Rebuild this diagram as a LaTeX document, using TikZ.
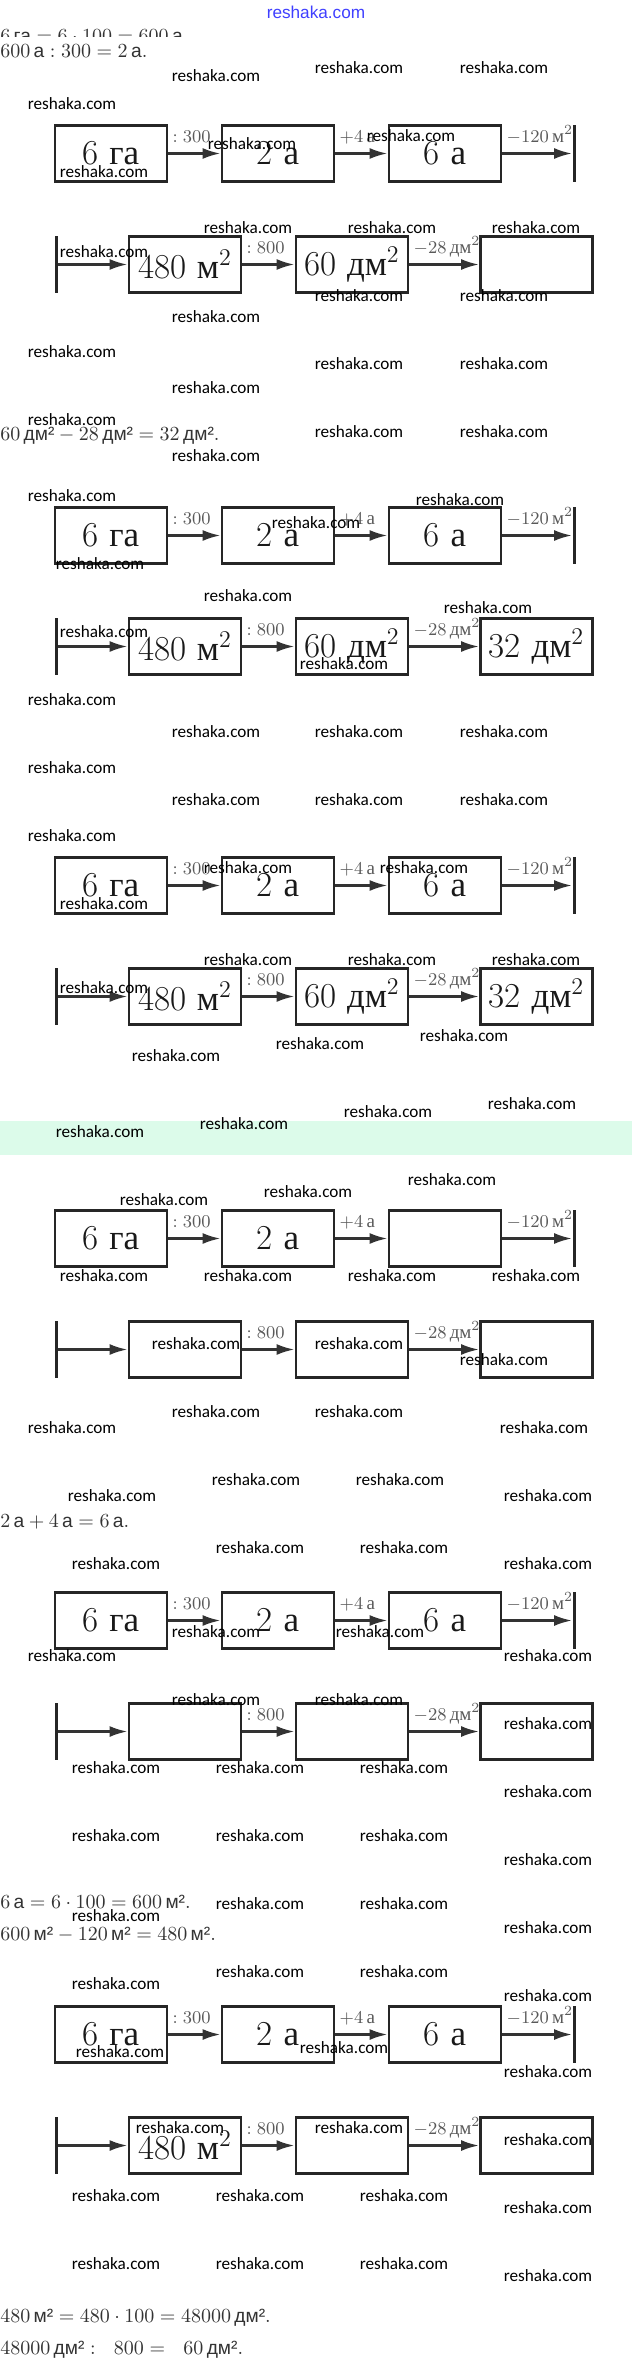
\documentclass[tikz,border=0pt]{standalone}
\usepackage{fontspec}
\usetikzlibrary{arrows.meta}
\newfontfamily\cyr{Liberation Serif}
\newfontfamily\unitsf{Liberation Sans}
\newfontfamily\wmfont{Carlito}
\definecolor{mint}{HTML}{DCFBEA}
\newcommand{\usq}[1]{\mbox{\unitsf #1}}
\newcommand{\sqm}{{\cyr м}$^2$}
\newcommand{\sqdm}{{\cyr дм}$^2$}

\tikzset{
  cell/.style={draw=black!85, line width=1.4pt, minimum width=56pt, minimum height=28pt, inner sep=0pt, text=black!90, font=\fontsize{17.5}{20}\selectfont},
  wall/.style={fill=black!85, minimum width=1.5pt, minimum height=28.5pt, inner sep=0pt},
  flow/.style={draw=black!80, line width=1.3pt, -{Latex[length=9pt,width=5.5pt]}},
  op/.style={pos=0, anchor=base west, xshift=1.5pt, yshift=5.5pt, inner sep=0pt, text=black!65, font=\fontsize{9.5}{12}\selectfont},
  eq/.style={anchor=base west, inner sep=0pt, text=black!80, font=\fontsize{9.6}{12}\selectfont},
  wm/.style={inner sep=0pt, font=\wmfont\fontsize{8.6}{10}\selectfont}
}

\begin{document}
\begin{tikzpicture}[x=0.5pt, y=-0.5pt]
\useasboundingbox (0,0) rectangle (632,2365);
\fill[white] (0,0) rectangle (632,2365);
\fill[mint] (0,1121) rectangle (632,1155);

% header and worked lines
\node[inner sep=0pt, text=blue!75, font=\unitsf\fontsize{8.6}{10}\selectfont] (site) at (316,12) {reshaka.com};
\begin{scope}
  \clip (0,0) rectangle (632,37);
  \node[eq] (ln0) at (0,43) {$6\,\usq{га} = 6\cdot 100 = 600\,\usq{а}$};
\end{scope}
\node[eq] (ln1) at (0,58) {$600\,\usq{а} : 300 = 2\,\usq{а}.$};
\node[eq] (ln2) at (0,440) {$60\,\usq{дм²} - 28\,\usq{дм²} = 32\,\usq{дм²}.$};
\node[eq] (ln3) at (0,1527) {$2\,\usq{а} + 4\,\usq{а} = 6\,\usq{а}.$};
\node[eq] (ln4) at (0,1908) {$6\,\usq{а} = 6\cdot 100 = 600\,\usq{м²}.$};
\node[eq] (ln5) at (0,1940) {$600\,\usq{м²} - 120\,\usq{м²} = 480\,\usq{м²}.$};
\node[eq] (ln6) at (0,2322) {$480\,\usq{м²} = 480\cdot 100 = 48000\,\usq{дм²}.$};
\node[eq] (ln7) at (0,2354) {$48000\,\usq{дм²} :\ \ 800 =\ \ 60\,\usq{дм²}.$};

% the six chains
\foreach \n/\yy/\pa/\pb/\pc/\qa/\qb/\qc in {
  1/125/{6 {\cyr га}}/{2 {\cyr а}}/{6 {\cyr а}}/{480 \sqm}/{60 \sqdm}/{},
  2/507/{6 {\cyr га}}/{2 {\cyr а}}/{6 {\cyr а}}/{480 \sqm}/{60 \sqdm}/{32 \sqdm},
  3/857/{6 {\cyr га}}/{2 {\cyr а}}/{6 {\cyr а}}/{480 \sqm}/{60 \sqdm}/{32 \sqdm},
  4/1210/{6 {\cyr га}}/{2 {\cyr а}}/{}/{}/{}/{},
  5/1592/{6 {\cyr га}}/{2 {\cyr а}}/{6 {\cyr а}}/{}/{}/{},
  6/2006/{6 {\cyr га}}/{2 {\cyr а}}/{6 {\cyr а}}/{480 \sqm}/{}/{}}
{
  \node[cell] (d\n-a1) at (111,\yy+28.5) {\pa};
  \node[cell] (d\n-a2) at (278,\yy+28.5) {\pb};
  \node[cell] (d\n-a3) at (445,\yy+28.5) {\pc};
  \node[wall] (d\n-end) at (574,\yy+28.5) {};
  \node[wall] (d\n-start) at (56,\yy+139.5) {};
  \node[cell] (d\n-b1) at (185,\yy+139.5) {\qa};
  \node[cell] (d\n-b2) at (352,\yy+139.5) {\qb};
  \node[cell] (d\n-b3) at (536.5,\yy+139.5) {\qc};

  \draw[flow] (d\n-a1) -- (d\n-a2) node[op] {$:300$};
  \draw[flow] (d\n-a2) -- (d\n-a3) node[op] {$+4$\,{\cyr а}};
  \draw[flow] (d\n-a3) -- (d\n-end) node[op] {$-120$\,\sqm};
  \draw[flow] (d\n-start) -- (d\n-b1);
  \draw[flow] (d\n-b1) -- (d\n-b2) node[op] {$:800$};
  \draw[flow] (d\n-b2) -- (d\n-b3) node[op] {$-28$\,\sqdm};
}

% watermarks
\foreach \x/\y [count=\k] in {216/76, 359/68, 504/68, 72/104, 252/144, 411/136, 104/172,
  248/228, 392/228, 536/228, 104/252, 359/296, 504/296, 216/317,
  72/352, 359/364, 504/364, 216/388, 72/420, 359/432, 504/432, 216/456,
  72/496, 460/500, 316/523, 100/564, 248/596, 488/608, 104/632, 344/664, 72/700,
  216/732, 359/732, 504/732, 72/768, 216/800, 359/800, 504/800, 72/836,
  248/868, 424/868, 104/904, 248/960, 392/960, 536/960, 104/988,
  464/1036, 320/1044, 176/1056, 532/1104, 388/1112, 244/1124, 100/1132,
  452/1180, 308/1192, 164/1200, 104/1276, 248/1276, 392/1276, 536/1276,
  196/1344, 359/1344, 504/1360, 216/1412, 359/1412, 72/1428, 544/1428,
  256/1480, 400/1480, 112/1496, 548/1496, 260/1548, 404/1548,
  116/1564, 548/1564, 216/1632, 380/1632, 72/1656, 548/1656, 216/1700, 359/1700,
  548/1724, 116/1768, 260/1768, 404/1768, 548/1792, 116/1836, 260/1836, 404/1836,
  548/1860, 260/1904, 404/1904, 116/1916, 548/1928,
  260/1972, 404/1972, 116/1984, 548/1996, 120/2052, 344/2048, 548/2072,
  180/2128, 359/2128, 548/2140, 116/2196, 260/2196, 404/2196, 548/2208,
  116/2264, 260/2264, 404/2264, 548/2276}
  \node[wm] (wm\k) at (\x,\y) {reshaka.com};
\end{tikzpicture}
\end{document}
